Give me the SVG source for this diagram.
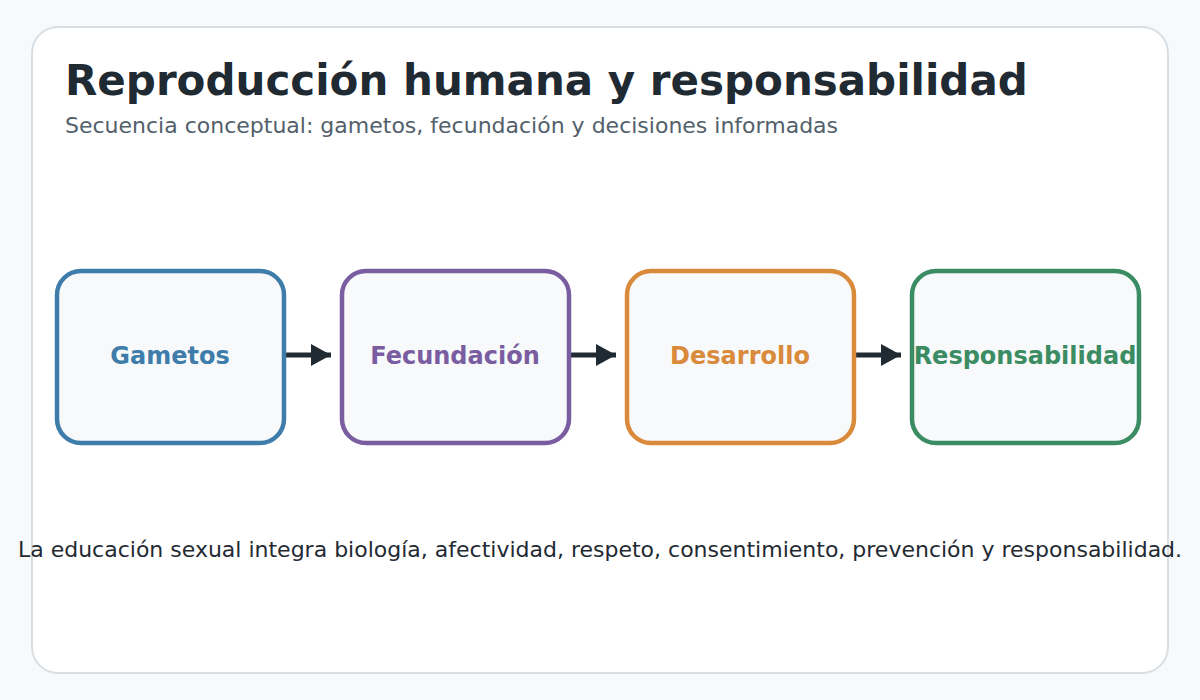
<svg xmlns="http://www.w3.org/2000/svg" width="1200" height="700" viewBox="0 0 1200 700">
<style>
.title{font-family:"DejaVu Sans",sans-serif;font-weight:bold;font-size:42px;fill:#1f2a33}
.sub{font-family:"DejaVu Sans",sans-serif;font-size:22px;fill:#52606b}
.foot{font-family:"DejaVu Sans",sans-serif;font-size:22px;fill:#1f2a33}
.box{fill:#f7f9fb;stroke-width:4.5}
.lbl{font-family:"DejaVu Sans",sans-serif;font-weight:bold;font-size:24px;text-anchor:middle}
.conn{stroke:#1f2a33;stroke-width:5;fill:none}
</style>
<defs>
<marker id="ah" markerWidth="4" markerHeight="4.4" refX="4" refY="2.2" orient="auto" markerUnits="strokeWidth">
<path d="M0,0 L4,2.2 L0,4.4 Z" fill="#1f2a33"/>
</marker>
</defs>
<rect x="0" y="0" width="1200" height="700" fill="#f8f9fa"/>
<rect x="32" y="27" width="1136" height="646" rx="26" fill="#ffffff" stroke="#d8dee2" stroke-width="2"/>
<text class="title" x="65" y="95">Reproducción humana y responsabilidad</text>
<text class="sub" x="65" y="133">Secuencia conceptual: gametos, fecundación y decisiones informadas</text>
<g id="connectors">
<line class="conn" x1="284" y1="355" x2="331" y2="355" marker-end="url(#ah)"/>
<line class="conn" x1="569" y1="355" x2="616" y2="355" marker-end="url(#ah)"/>
<line class="conn" x1="854" y1="355" x2="901" y2="355" marker-end="url(#ah)"/>
</g>
<g id="gametos">
<rect class="box" x="57" y="271" width="227" height="172" rx="24" stroke="#3e7caa"/>
<text class="lbl" x="170" y="364" fill="#3e7caa">Gametos</text>
</g>
<g id="fecundacion">
<rect class="box" x="342" y="271" width="227" height="172" rx="24" stroke="#7a5da0"/>
<text class="lbl" x="455" y="364" fill="#7a5da0">Fecundación</text>
</g>
<g id="desarrollo">
<rect class="box" x="627" y="271" width="227" height="172" rx="24" stroke="#d98a3a"/>
<text class="lbl" x="740" y="364" fill="#d98a3a">Desarrollo</text>
</g>
<g id="responsabilidad">
<rect class="box" x="912" y="271" width="227" height="172" rx="24" stroke="#3b8c62"/>
<text class="lbl" x="1025" y="364" fill="#3b8c62">Responsabilidad</text>
</g>
<text class="foot" x="600" y="557" text-anchor="middle">La educación sexual integra biología, afectividad, respeto, consentimiento, prevención y responsabilidad.</text>
</svg>
